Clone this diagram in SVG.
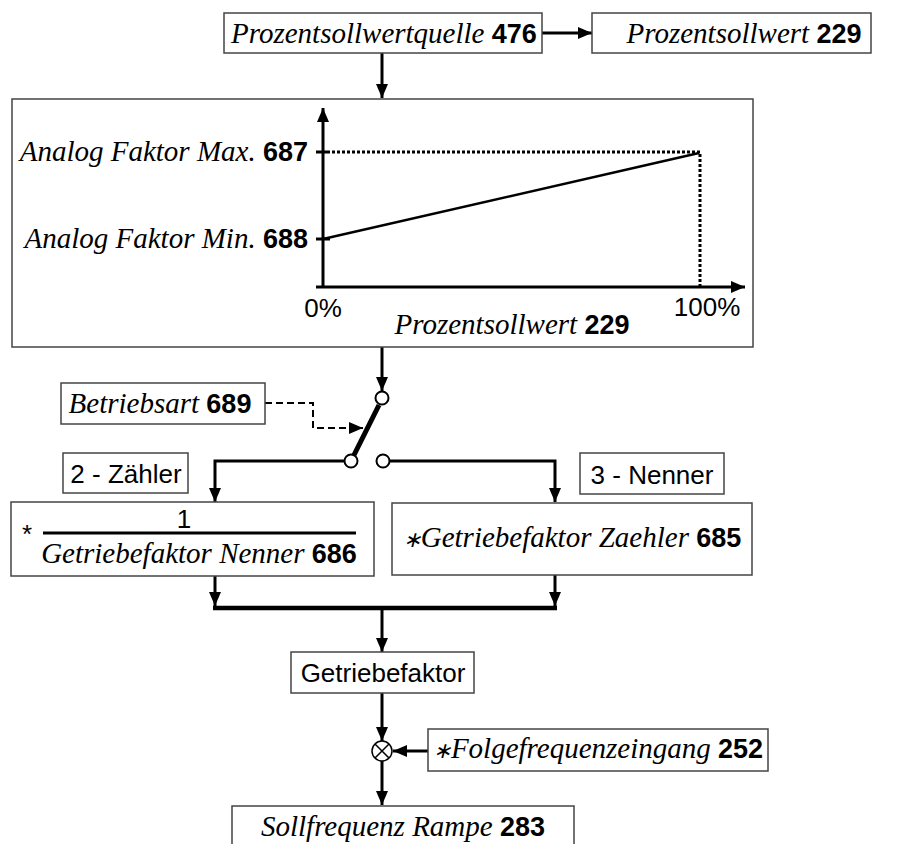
<svg xmlns="http://www.w3.org/2000/svg" width="898" height="844" viewBox="0 0 898 844">
<style>
.box{fill:#fff;stroke:#444;stroke-width:1.5}
.it{font-family:"Liberation Serif","Times New Roman",serif;font-style:italic;font-size:29px;fill:#000}
.b{font-family:"Liberation Sans",Arial,sans-serif;font-style:normal;font-weight:bold;font-size:27px}
.ast{font-size:22px}
.s{font-family:"Liberation Sans",Arial,sans-serif;font-size:26px;fill:#000}
.ln{fill:none;stroke:#000;stroke-width:3}
.dot{fill:none;stroke:#000;stroke-width:3;stroke-dasharray:3 2}
.dash{fill:none;stroke:#000;stroke-width:2;stroke-dasharray:7 4}
.c{fill:#fff;stroke:#000;stroke-width:2}
</style>
<defs>
<marker id="ah" viewBox="0 0 14 12" refX="14" refY="6" markerWidth="14" markerHeight="12" markerUnits="userSpaceOnUse" orient="auto">
<path d="M0,0 L14,6 L0,12 Z" fill="#000"/>
</marker>
</defs>

<g id="connectors">
<path class="ln" d="M542,33 H592" marker-end="url(#ah)"/>
<path class="ln" d="M382,53 V98" marker-end="url(#ah)"/>
<path class="ln" d="M382,347 V391" marker-end="url(#ah)"/>
<path class="ln" d="M344,461 H215 V502" marker-end="url(#ah)"/>
<path class="ln" d="M390,461 H555 V502" marker-end="url(#ah)"/>
<path class="dash" d="M265,403 H313 V428 H363" marker-end="url(#ah)"/>
<path class="ln" d="M215,576 V606" marker-end="url(#ah)"/>
<path class="ln" d="M555,575 V606" marker-end="url(#ah)"/>
<path d="M213,608 H557" stroke="#000" stroke-width="4.5" fill="none"/>
<path class="ln" d="M382,608 V652" marker-end="url(#ah)"/>
<path class="ln" d="M382,693 V741" marker-end="url(#ah)"/>
<path class="ln" d="M428,751 H393" marker-end="url(#ah)"/>
<path class="ln" d="M382,761 V805" marker-end="url(#ah)"/>
</g>

<g id="n-quelle">
<rect class="box" x="224" y="13" width="318" height="40"/>
<text class="it" x="231" y="43">Prozentsollwertquelle <tspan class="b">476</tspan></text>
</g>

<g id="n-sollwert">
<rect class="box" x="592" y="13" width="279" height="40"/>
<text class="it" x="744" y="43" text-anchor="middle">Prozentsollwert <tspan class="b">229</tspan></text>
</g>

<g id="n-chart">
<rect class="box" x="12" y="99" width="741" height="248"/>
<path class="ln" d="M323,287 V108" marker-end="url(#ah)"/>
<path class="ln" d="M316,287 H745" marker-end="url(#ah)"/>
<path class="ln" d="M316,152 H330 M316,239 H330"/>
<path class="dot" d="M332,152 H700 V287"/>
<path d="M323,239 L699,153" stroke="#000" stroke-width="2.5" fill="none"/>
<text class="it" x="308" y="161" text-anchor="end">Analog Faktor Max. <tspan class="b">687</tspan></text>
<text class="it" x="308" y="248" text-anchor="end">Analog Faktor Min. <tspan class="b">688</tspan></text>
<text class="s" x="323" y="317" text-anchor="middle">0%</text>
<text class="s" x="707" y="316" text-anchor="middle">100%</text>
<text class="it" x="512" y="334" text-anchor="middle">Prozentsollwert <tspan class="b">229</tspan></text>
</g>

<g id="n-switch">
<path d="M379,405 L354,455" stroke="#000" stroke-width="5" fill="none"/>
<circle class="c" cx="382" cy="398" r="6.5"/>
<circle class="c" cx="351" cy="461" r="6.5"/>
<circle class="c" cx="383" cy="461" r="6.5"/>
</g>

<g id="n-betriebsart">
<rect class="box" x="61" y="383" width="204" height="41"/>
<text class="it" x="160" y="413" text-anchor="middle">Betriebsart <tspan class="b">689</tspan></text>
</g>

<g id="n-zaehler-label">
<rect class="box" x="63" y="453" width="125" height="40"/>
<text class="s" x="126" y="483" text-anchor="middle">2 - Zähler</text>
</g>

<g id="n-nenner-label">
<rect class="box" x="580" y="453" width="144" height="41"/>
<text class="s" x="652" y="484" text-anchor="middle">3 - Nenner</text>
</g>

<g id="n-left">
<rect class="box" x="11" y="502" width="363" height="74"/>
<text class="s" x="22" y="543" font-size="22">*</text>
<text class="s" x="184" y="528" text-anchor="middle">1</text>
<path d="M43,533 H356" stroke="#000" stroke-width="3"/>
<text class="it" x="199" y="563" text-anchor="middle">Getriebefaktor Nenner <tspan class="b">686</tspan></text>
</g>

<g id="n-right">
<rect class="box" x="392" y="503" width="360" height="72"/>
<text class="it" x="572" y="547" text-anchor="middle"><tspan class="ast">∗</tspan>Getriebefaktor Zaehler <tspan class="b">685</tspan></text>
</g>

<g id="n-getriebefaktor">
<rect class="box" x="291" y="652" width="183" height="41"/>
<text class="s" x="383" y="682" text-anchor="middle">Getriebefaktor</text>
</g>

<g id="n-mult">
<circle cx="382" cy="751" r="10" fill="#fff" stroke="#000" stroke-width="1.5"/>
<path d="M375,744 L389,758 M389,744 L375,758" stroke="#000" stroke-width="1.5"/>
</g>

<g id="n-folge">
<rect class="box" x="428" y="729" width="340" height="42"/>
<text class="it" x="598" y="758" text-anchor="middle"><tspan class="ast">∗</tspan>Folgefrequenzeingang <tspan class="b">252</tspan></text>
</g>

<g id="n-rampe">
<rect class="box" x="232" y="806" width="342" height="50"/>
<text class="it" x="403" y="836" text-anchor="middle">Sollfrequenz Rampe <tspan class="b">283</tspan></text>
</g>
</svg>
